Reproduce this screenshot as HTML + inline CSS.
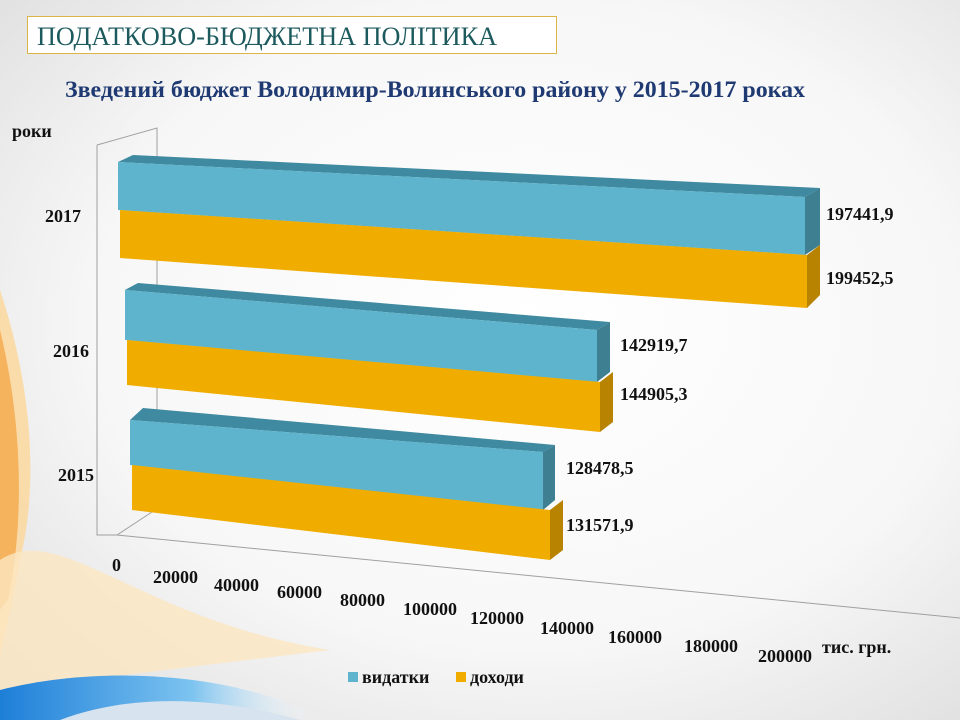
<!DOCTYPE html>
<html><head><meta charset="utf-8"><style>
body{margin:0;width:960px;height:720px;overflow:hidden;font-family:"Liberation Serif",serif;}
</style></head><body>
<svg width="960" height="720" viewBox="0 0 960 720" xmlns="http://www.w3.org/2000/svg" style="position:absolute;left:0;top:0">
<defs>
<radialGradient id="bg" cx="0.55" cy="0.45" r="0.75">
<stop offset="0" stop-color="#ffffff"/><stop offset="0.6" stop-color="#f7f7f7"/><stop offset="1" stop-color="#dedede"/>
</radialGradient>
<linearGradient id="bl" x1="0" y1="0" x2="1" y2="0">
<stop offset="0" stop-color="#1e7fd8"/><stop offset="0.6" stop-color="#7cc3f0"/><stop offset="1" stop-color="#ffffff" stop-opacity="0"/>
</linearGradient>
</defs>
<rect width="960" height="720" fill="url(#bg)"/>
<path d="M0 290 C30 380 40 480 20 560 C10 620 0 650 0 660 Z" fill="#fbd9a3" opacity="0.9"/>
<path d="M0 330 C22 420 25 520 8 600 L0 610 Z" fill="#f5a94a" opacity="0.8"/>
<path d="M0 560 C60 520 140 620 330 650 L0 690 Z" fill="#fde6c2" opacity="0.8"/>
<path d="M0 690 C120 660 260 680 320 720 L0 720 Z" fill="url(#bl)"/>
<path d="M60 720 C140 690 230 700 300 720 Z" fill="#d7e3ee"/>
<rect x="27.5" y="16.5" width="529" height="37" fill="#fff" stroke="#d9b54a" stroke-width="1"/>
<text x="37" y="45" font-size="26" fill="#1d5a5e" textLength="460" lengthAdjust="spacingAndGlyphs">ПОДАТКОВО-БЮДЖЕТНА ПОЛІТИКА</text>
<text x="65" y="97" font-size="23" font-weight="bold" fill="#1f3a72" textLength="740" lengthAdjust="spacingAndGlyphs">Зведений бюджет Володимир-Волинського району у 2015-2017 роках</text>
<g stroke="#a0a0a0" stroke-width="1" fill="none">
<path d="M97 145 L157 128 L157 505"/>
<path d="M97 145 L97 535 L117 535"/>
<path d="M117 535 L155 510"/>
<path d="M117 535 L960 618"/>
</g>
<polygon points="118,162 133,155 820,188 805,197" fill="#3f8aa0"/>
<polygon points="118,162 805,197 805,255 118,210" fill="#5eb4cc"/>
<polygon points="805,197 820,188 820,245 805,255" fill="#3f7f92"/>
<polygon points="120,210 807,255 807,308 120,258" fill="#f0ad00"/>
<polygon points="807,255 820,245 820,295 807,308" fill="#b78300"/>
<polygon points="125,290 138,283 610,322 597,330" fill="#3f8aa0"/>
<polygon points="125,290 597,330 597,382 125,340" fill="#5eb4cc"/>
<polygon points="597,330 610,322 610,372 597,382" fill="#3f7f92"/>
<polygon points="127,340 600,382 600,432 127,385" fill="#f0ad00"/>
<polygon points="600,382 613,372 613,422 600,432" fill="#b78300"/>
<polygon points="130,420 143,408 555,445 543,452" fill="#3f8aa0"/>
<polygon points="130,420 543,452 543,510 130,465" fill="#5eb4cc"/>
<polygon points="543,452 555,445 555,500 543,510" fill="#3f7f92"/>
<polygon points="132,465 550,510 550,560 132,510" fill="#f0ad00"/>
<polygon points="550,510 563,500 563,550 550,560" fill="#b78300"/>
<g font-size="18" font-weight="bold" fill="#111">
<text x="12" y="137">роки</text>
<text x="45" y="222">2017</text>
<text x="53" y="357">2016</text>
<text x="58" y="481">2015</text>
<text x="826" y="220">197441,9</text>
<text x="826" y="284">199452,5</text>
<text x="620" y="351">142919,7</text>
<text x="620" y="400">144905,3</text>
<text x="566" y="474">128478,5</text>
<text x="566" y="531">131571,9</text>
<text x="112" y="571">0</text>
<text x="153" y="583">20000</text>
<text x="214" y="591">40000</text>
<text x="277" y="598">60000</text>
<text x="340" y="606">80000</text>
<text x="403" y="615">100000</text>
<text x="470" y="624">120000</text>
<text x="540" y="634">140000</text>
<text x="608" y="643">160000</text>
<text x="684" y="652">180000</text>
<text x="758" y="662">200000</text>
<text x="822" y="653">тис. грн.</text>
<rect x="348" y="672" width="10" height="10" fill="#5eb4cc" stroke="none"/>
<text x="362" y="683">видатки</text>
<rect x="456" y="672" width="10" height="10" fill="#f0ad00" stroke="none"/>
<text x="470" y="683">доходи</text>
</g>
</svg>
</body></html>
